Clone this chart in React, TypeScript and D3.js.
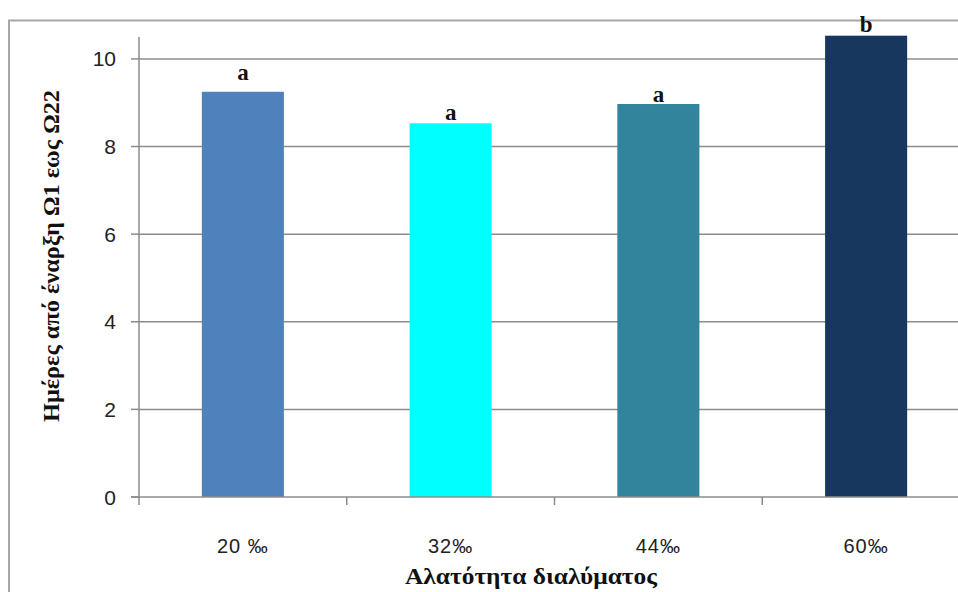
import React from "react";
import * as d3 from "d3";

const categories = ["20 ‰", "32‰", "44‰", "60‰"];
const values = [9.25, 8.53, 8.97, 10.53];
const letters = ["a", "a", "a", "b"];
const letterLevels = [9.52, 8.61, 9.02, 10.62];
const colors = ["#4f81bd", "#00ffff", "#31849b", "#17375e"];
const yTicks = [0, 2, 4, 6, 8, 10];
const yTitle = "Ημέρες από έναρξη  Ω1 εως Ω22";
const xTitle = "Αλατότητα διαλύματος";

const W = 958;
const H = 592;
const left = 139;
const right = 970;
const top = 37;
const bottom = 497;

export default function App() {
  const x = d3
    .scaleBand<string>()
    .domain(categories)
    .range([left, right])
    .paddingInner(0.605)
    .paddingOuter(0.3025);
  const y = d3.scaleLinear().domain([0, 10.5]).range([bottom, top]);
  const step = x.step();
  const boundaries = d3.range(categories.length + 1).map((i) => left + i * step);
  const grid = "#8c8c8c";
  const sans = "'Liberation Sans', Arial, sans-serif";
  const serif = "'Liberation Serif', 'Times New Roman', serif";

  return (
    <svg
      width={W}
      height={H}
      style={{ position: "absolute", left: 0, top: 0, background: "#fff" }}
    >
      <rect x={0} y={0} width={W} height={H} fill="#fff" />
      <rect
        x={9}
        y={20.5}
        width={1100}
        height={1100}
        fill="none"
        stroke="#a6a6a6"
        strokeWidth={2}
      />
      {yTicks.map((t) => (
        <g key={t}>
          {t > 0 && (
            <line x1={left} x2={W} y1={y(t)} y2={y(t)} stroke={grid} strokeWidth={1.5} />
          )}
          <line x1={left - 8} x2={left} y1={y(t)} y2={y(t)} stroke={grid} strokeWidth={1.5} />
          <text
            x={116}
            y={y(t)}
            dy="0.36em"
            textAnchor="end"
            fontFamily={sans}
            fontSize={21}
            fill="#222"
          >
            {t}
          </text>
        </g>
      ))}
      {categories.map((c, i) => (
        <g key={c}>
          <rect
            x={x(c)}
            y={y(values[i])}
            width={x.bandwidth()}
            height={bottom - y(values[i])}
            fill={colors[i]}
          />
          <text
            x={(x(c) as number) + x.bandwidth() / 2}
            y={y(letterLevels[i])}
            textAnchor="middle"
            fontFamily={serif}
            fontWeight="bold"
            fontSize={23}
            fill="#111"
          >
            {letters[i]}
          </text>
          <text
            x={(x(c) as number) + x.bandwidth() / 2}
            y={553}
            textAnchor="middle"
            fontFamily={sans}
            fontSize={20}
            letterSpacing={1}
            fill="#222"
          >
            {c}
          </text>
        </g>
      ))}
      <line x1={left} x2={left} y1={top} y2={bottom + 8} stroke={grid} strokeWidth={1.5} />
      <line x1={left - 8} x2={W} y1={bottom} y2={bottom} stroke={grid} strokeWidth={1.5} />
      {boundaries.slice(1).map((b, i) => (
        <line key={i} x1={b} x2={b} y1={bottom} y2={bottom + 8} stroke={grid} strokeWidth={1.5} />
      ))}
      <text
        x={531}
        y={584}
        textAnchor="middle"
        fontFamily={serif}
        fontWeight="bold"
        fontSize={23}
        textLength={252}
        lengthAdjust="spacingAndGlyphs"
        fill="#111"
      >
        {xTitle}
      </text>
      <text
        transform={`translate(59,256) rotate(-90)`}
        textAnchor="middle"
        fontFamily={serif}
        fontWeight="bold"
        fontSize={23}
        textLength={332}
        lengthAdjust="spacingAndGlyphs"
        fill="#111"
      >
        {yTitle}
      </text>
    </svg>
  );
}
